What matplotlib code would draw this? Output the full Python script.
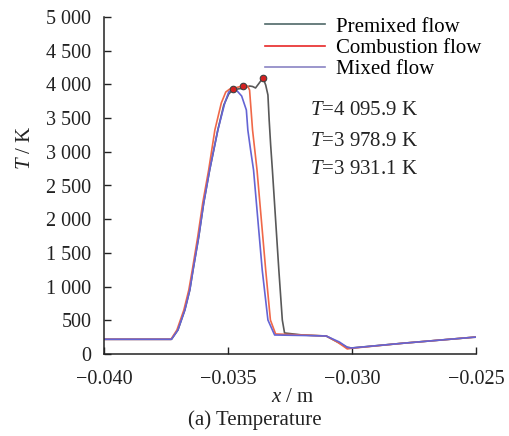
import matplotlib
matplotlib.use("Agg")
import matplotlib.pyplot as plt
from matplotlib.lines import Line2D

plt.rcParams['font.family'] = ['Liberation Serif', 'DejaVu Serif']
plt.rcParams['mathtext.fontset'] = 'custom'
plt.rcParams['mathtext.rm'] = 'Liberation Serif'
plt.rcParams['mathtext.it'] = 'Liberation Serif:italic'

# ---- data ----
premixed_x = [-0.0400, -0.03728, -0.03702, -0.03674, -0.03654, -0.03641, -0.03618, -0.03598,
              -0.03574, -0.03541, -0.03517, -0.03497, -0.03481, -0.03461, -0.03433, -0.03413,
              -0.03401, -0.03389, -0.03377, -0.03359, -0.03348, -0.03339, -0.03334, -0.03328,
              -0.03321, -0.03295, -0.03281, -0.03272, -0.03200, -0.03104, -0.03059, -0.03019,
              -0.03002, -0.02797, -0.02512, -0.0250]
premixed_T = [218, 218, 356, 653, 950, 1246, 1740, 2240, 2730, 3323, 3694, 3858, 3917, 3932,
              3947, 3976, 3969, 3947, 4006, 4096, 3991, 3843, 3472, 3101, 2730, 1246, 504, 312,
              282, 267, 178, 99, 89, 159, 248, 250]

combustion_x = [-0.0400, -0.03730, -0.03706, -0.03678, -0.03658, -0.03644, -0.03622, -0.03602,
                -0.03578, -0.03553, -0.03527, -0.03509, -0.03493, -0.03469, -0.03440, -0.03421,
                -0.03413, -0.03407, -0.03401, -0.03383, -0.03348, -0.03329, -0.03308, -0.03200,
                -0.03104, -0.03059, -0.03019, -0.03002, -0.02797, -0.02512, -0.0250]
combustion_T = [218, 218, 356, 653, 950, 1246, 1740, 2240, 2730, 3323, 3724, 3887, 3931, 3950,
                3979, 3976, 3917, 3620, 3323, 2730, 1246, 504, 297, 282, 267, 178, 75, 85, 159,
                248, 250]

mixed_x = [-0.0400, -0.03728, -0.03702, -0.03674, -0.03654, -0.03641, -0.03618, -0.03598,
           -0.03574, -0.03541, -0.03513, -0.03497, -0.03480, -0.03465, -0.03445, -0.03426,
           -0.03420, -0.03409, -0.03397, -0.03362, -0.03339, -0.03312, -0.03200, -0.03104,
           -0.03051, -0.03019, -0.03002, -0.02797, -0.02512, -0.0250]
mixed_T = [218, 218, 356, 653, 950, 1246, 1740, 2240, 2730, 3323, 3724, 3887, 3931, 3910, 3828,
           3620, 3323, 3030, 2730, 1246, 504, 282, 275, 267, 178, 99, 89, 159, 248, 250]

peak_x = [-0.03359, -0.03440, -0.03480]
peak_T = [4095.9, 3978.9, 3931.1]
peak_labels = ['$T$=4 095.9 K', '$T$=3 978.9 K', '$T$=3 931.1 K']

series_names = ['Premixed flow', 'Combustion flow', 'Mixed flow']
xticks = [-0.040, -0.035, -0.030, -0.025]
xtick_labels = ['\u22120.040', '\u22120.035', '\u22120.030', '\u22120.025']
yticks = [0, 500, 1000, 1500, 2000, 2500, 3000, 3500, 4000, 4500, 5000]
ytick_labels = ['0', '500', '1 000', '1 500', '2 000', '2 500', '3 000', '3 500', '4 000',
                '4 500', '5 000']

line_colors = ['#585858', '#f06848', '#6464d4']
legend_colors = ['#4f6868', '#e82828', '#8a84c4']

fig = plt.figure(figsize=(5.1, 4.36), dpi=100)
ax = fig.add_axes([104/510, 1-354/436, 372/510, 337/436])

ax.plot(premixed_x, premixed_T, color=line_colors[0], lw=1.2)
ax.plot(combustion_x, combustion_T, color=line_colors[1], lw=1.2)
ax.plot(mixed_x, mixed_T, color=line_colors[2], lw=1.2)
ax.scatter(peak_x, peak_T, s=22, color='#d42020', edgecolor='#404040', linewidth=0.8, zorder=5)

ax.set_xlim(-0.040, -0.025)
ax.set_ylim(0, 5000)
ax.set_xticks(xticks)
ax.set_xticklabels(xtick_labels)
ax.set_yticks(yticks)
ax.set_yticklabels(ytick_labels)
ax.tick_params(direction='in', length=5, width=1, labelsize=14.5, colors='#222222')
ax.tick_params(axis='y', pad=9)
ax.tick_params(axis='x', pad=11.5)
for s in ['top', 'right']:
    ax.spines[s].set_visible(False)
for s in ['left', 'bottom']:
    ax.spines[s].set_linewidth(1.1)
    ax.spines[s].set_color('#222222')

handles = [Line2D([], [], color=c, lw=1.2) for c in legend_colors]
ax.legend(handles, series_names, loc='upper left', bbox_to_anchor=(0.433, 1.0),
          frameon=False, fontsize=15, handlelength=2.9, handletextpad=0.5,
          labelspacing=0.08, borderpad=0, borderaxespad=0)

ty = [0.724, 0.630, 0.546]
for lab, yy in zip(peak_labels, ty):
    ax.text(0.554, yy, lab, transform=ax.transAxes, fontsize=15, va='center', ha='left',
            color='#222222')

ax.text(0.508, -0.128, '$x$ / m', transform=ax.transAxes, fontsize=15, ha='center',
        va='center', color='#222222')
fig.text(0.5, 1-420/436, '(a) Temperature', fontsize=15, ha='center', va='center',
         color='#222222')
fig.text(26/510, 1-148/436, '$T$ / K', fontsize=15, ha='center', va='center', rotation=90,
         color='#222222')

fig.savefig('out.png', dpi=100)
